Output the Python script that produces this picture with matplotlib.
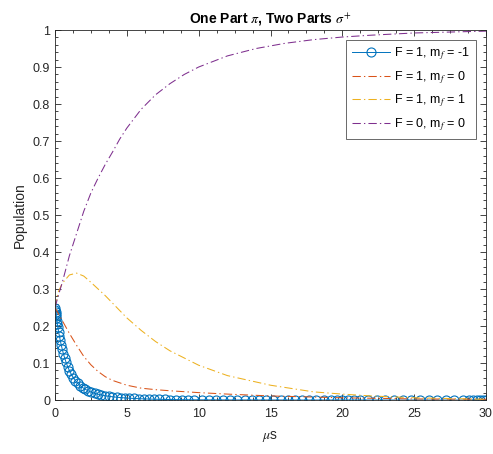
import matplotlib
matplotlib.use("Agg")
import matplotlib.pyplot as plt
from matplotlib.ticker import MultipleLocator, FuncFormatter

plt.rcParams["font.family"] = ["Liberation Sans", "DejaVu Sans"]
plt.rcParams["mathtext.fontset"] = "stix"

# F = 1, m_f = -1 (solver output points, drawn with markers)
t_blue = [0, 0.02, 0.04, 0.06, 0.08, 0.1, 0.13, 0.16, 0.2, 0.25, 0.3, 0.36, 0.43, 0.5,
          0.58, 0.67, 0.77, 0.88, 1.0, 1.13, 1.27, 1.42, 1.58, 1.75, 1.93, 2.12, 2.32,
          2.53, 2.75, 2.98, 3.22, 3.47, 3.73, 4.0, 4.28, 4.57, 4.87, 5.18, 5.5, 5.83,
          6.17, 6.52, 6.88, 7.25, 7.63, 8.02, 8.42, 8.83, 9.25, 9.7, 10.2, 10.7, 11.2,
          11.7, 12.2, 12.7, 13.2, 13.7, 14.2, 14.7, 15.2, 15.7, 16.2, 16.7, 17.2, 17.7,
          18.2, 18.7, 19.2, 19.6, 20.0, 20.4, 20.8, 21.2, 21.8, 22.4, 23.0, 23.6, 24.2,
          24.8, 25.4, 26.0, 26.6, 27.2, 27.8, 28.4, 28.8, 29.1, 29.4, 29.6, 29.8, 30.0]
p_blue = [0.25, 0.2439, 0.2380, 0.2322, 0.2266, 0.2212, 0.2132, 0.2056, 0.1960, 0.1845,
          0.1739, 0.1621, 0.1493, 0.1377, 0.1257, 0.1137, 0.1018, 0.0904, 0.0796, 0.0697,
          0.0607, 0.0525, 0.0453, 0.0390, 0.0335, 0.0288, 0.0247, 0.0212, 0.0182, 0.0157,
          0.0136, 0.0117, 0.0102, 0.0088, 0.0076, 0.0066, 0.0057, 0.0049, 0.0042, 0.0036,
          0.0030, 0.0026, 0.0022, 0.0019, 0.0016, 0.0013, 0.0011, 0.0009, 0.0007, 0.0006,
          0.0005, 0.0004, 0.0003, 0.0003, 0.0002, 0.0002, 0.0002, 0.0001, 0.0001, 0.0001,
          0.0001, 0.0001, 0.0001, 0.0, 0.0, 0.0, 0.0, 0.0, 0.0, 0.0, 0.0, 0.0, 0.0, 0.0,
          0.0, 0.0, 0.0, 0.0, 0.0, 0.0, 0.0, 0.0, 0.0, 0.0, 0.0, 0.0, 0.0, 0.0, 0.0, 0.0,
          0.0, 0.0]

# F = 1, m_f = 0
t_orange = [0, 0.25, 0.5, 1, 1.5, 2, 2.5, 3, 3.5, 4, 5, 6, 7, 8, 10, 12, 15, 18, 20, 25, 30]
p_orange = [0.25, 0.232, 0.215, 0.18, 0.148, 0.118, 0.095, 0.077, 0.063, 0.053, 0.04,
            0.032, 0.028, 0.025, 0.02, 0.016, 0.011, 0.008, 0.006, 0.003, 0.002]

# F = 1, m_f = 1
t_yellow = [0, 0.2, 0.5, 1, 1.5, 2, 2.5, 3, 3.5, 4, 5, 6, 7, 8, 10, 12, 15, 18, 20, 22, 25, 30]
p_yellow = [0.25, 0.29, 0.315, 0.338, 0.343, 0.335, 0.318, 0.30, 0.282, 0.262, 0.222,
            0.188, 0.158, 0.133, 0.094, 0.066, 0.04, 0.022, 0.016, 0.011, 0.006, 0.002]

# F = 0, m_f = 0
t_purple = [0, 0.25, 0.5, 1, 1.5, 2, 2.5, 3, 3.5, 4, 4.5, 5, 6, 7, 8, 9, 10, 12, 14, 16,
            18, 20, 22, 25, 28, 30]
p_purple = [0.25, 0.285, 0.317, 0.39, 0.45, 0.51, 0.56, 0.60, 0.637, 0.67, 0.705, 0.735,
            0.786, 0.825, 0.855, 0.88, 0.90, 0.93, 0.95, 0.964, 0.974, 0.981, 0.986,
            0.992, 0.995, 0.997]

dashdot = (8, 3, 1.3, 3)

fig = plt.figure(figsize=(4.93, 4.54), dpi=100)
ax = fig.add_axes([0.1116, 0.1189, 0.8742, 0.8150])

ax.plot(t_blue, p_blue, color="#0072BD", lw=0.7, marker="o", ms=6.5, mfc="none",
        mew=0.8, label="F = 1, m$_f$ = -1")
ax.plot(t_orange, p_orange, color="#D95319", lw=0.75, dashes=dashdot, label="F = 1, m$_f$ = 0")
ax.plot(t_yellow, p_yellow, color="#EDB120", lw=0.75, dashes=dashdot, label="F = 1, m$_f$ = 1")
ax.plot(t_purple, p_purple, color="#7E2F8E", lw=0.75, dashes=dashdot, label="F = 0, m$_f$ = 0")

ax.set_xlim(0, 30)
ax.set_ylim(0, 1)
ax.xaxis.set_major_locator(MultipleLocator(5))
ax.xaxis.set_minor_locator(MultipleLocator(1.25))
ax.yaxis.set_major_locator(MultipleLocator(0.1))
ax.yaxis.set_minor_locator(MultipleLocator(0.02))
ax.yaxis.set_major_formatter(FuncFormatter(lambda v, p: f"{v:g}"))
ax.tick_params(which="both", direction="in", top=True, right=True, colors="#262626",
               labelsize=9, width=0.6)
ax.tick_params(which="major", length=4)
ax.tick_params(which="minor", length=2)
ax.tick_params(axis="x", which="major", pad=6)
for s in ax.spines.values():
    s.set_color("#262626")
    s.set_linewidth(0.6)

ax.set_title(r"One Part $\pi$, Two Parts $\sigma^{+}$", fontsize=10, fontweight="bold", pad=5)
ax.set_xlabel(r"$\mu$s", fontsize=10, color="#262626", labelpad=6)
ax.set_ylabel("Population", fontsize=10, color="#262626")

leg = ax.legend(loc="upper right", fontsize=9, frameon=True, fancybox=False,
                borderaxespad=0.8, handlelength=3.1, handletextpad=0.3, labelspacing=0.55,
                borderpad=0.45)
leg.get_frame().set_edgecolor("#262626")
leg.get_frame().set_linewidth(0.6)

fig.savefig("out.png", dpi=100)
